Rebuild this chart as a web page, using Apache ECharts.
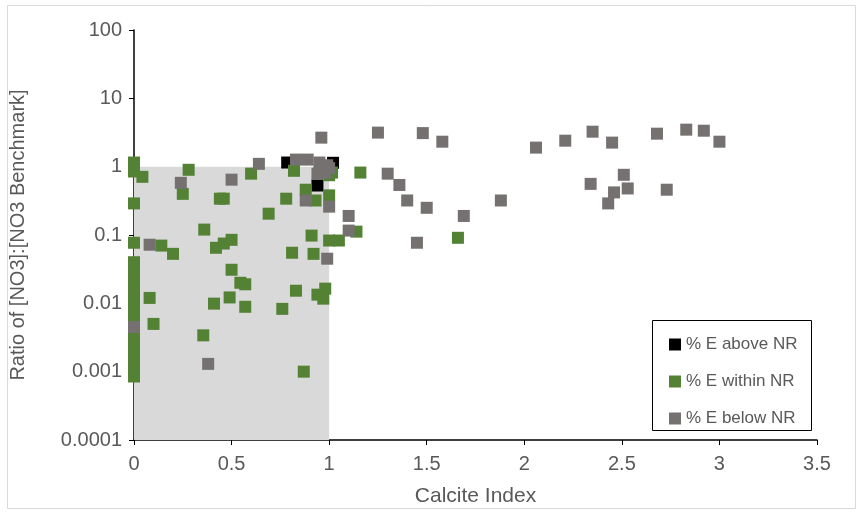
<!DOCTYPE html>
<html>
<head>
<meta charset="utf-8">
<script src="https://cdn.jsdelivr.net/npm/echarts@6/dist/echarts.min.js"></script>
<style>
  html, body { margin: 0; padding: 0; background: #fff; }
  #chart { width: 861px; height: 514px; }
</style>
</head>
<body>
<div id="chart"></div>
<script>
  // values: [calcite index, ratio]
  var seriesNames = ['% E above NR', '% E within NR', '% E below NR'];
  var xTicks = [0, 0.5, 1, 1.5, 2, 2.5, 3, 3.5];

  var aboveNR = [[0.785, 1.15], [1.02, 1.14], [0.94, 0.53]];

  var withinNR = [
    [0, 1.15], [0, 0.85], [0.043, 0.71], [0, 0.29], [0, 0.077],
    [0, 0.04], [0, 0.034], [0, 0.028], [0, 0.023], [0, 0.019], [0, 0.016],
    [0, 0.013], [0, 0.011], [0, 0.009], [0, 0.0074], [0, 0.006],
    [0, 0.0037], [0, 0.003], [0, 0.0025], [0, 0.002], [0, 0.0017],
    [0, 0.0014], [0, 0.0012], [0, 0.001], [0, 0.00085],
    [0.28, 0.9], [0.25, 0.4], [0.6, 0.79], [0.44, 0.34], [0.46, 0.34],
    [0.78, 0.34], [0.69, 0.205], [0.36, 0.12], [0.14, 0.07], [0.2, 0.053],
    [0.42, 0.065], [0.46, 0.075], [0.5, 0.085], [0.81, 0.055], [0.91, 0.098],
    [0.92, 0.053], [1.0, 0.083], [1.05, 0.083], [0.5, 0.031], [0.545, 0.02],
    [0.57, 0.019], [0.83, 0.0153], [0.94, 0.0134], [0.98, 0.0164], [0.97, 0.0117],
    [0.08, 0.012], [0.41, 0.0099], [0.49, 0.0122], [0.57, 0.0089], [0.76, 0.0083],
    [0.1, 0.005], [0.355, 0.0034], [0.87, 0.001], [0.82, 0.87], [1.015, 0.82],
    [1.16, 0.82], [0.88, 0.46], [0.93, 0.32], [1.0, 0.38], [1.14, 0.112],
    [1.66, 0.091], [0.97, 1.0], [1.0, 0.75]
  ];

  var belowNR = [
    [0.24, 0.58], [0.64, 1.1], [0.5, 0.645], [0.08, 0.072], [0.99, 0.045],
    [0, 0.0045], [0.38, 0.0013], [0.96, 2.66], [1.25, 3.15], [0.83, 1.27],
    [0.89, 1.27], [0.95, 1.15], [0.99, 1.05], [1.0, 0.95], [0.94, 0.79],
    [0.98, 0.82], [1.3, 0.79], [1.36, 0.54], [1.4, 0.32], [0.88, 0.32],
    [1.0, 0.26], [1.1, 0.19], [1.1, 0.116], [1.48, 3.1], [1.58, 2.32],
    [2.06, 1.9], [2.21, 2.4], [1.5, 0.25], [1.88, 0.32], [1.69, 0.19],
    [1.45, 0.077], [2.35, 3.25], [2.45, 2.25], [2.68, 3.04], [2.83, 3.48],
    [2.92, 3.36], [3.0, 2.32], [2.34, 0.56], [2.51, 0.76], [2.53, 0.48],
    [2.46, 0.42], [2.43, 0.29], [2.73, 0.46]
  ];

  // shaded "natural range" box
  var nrBox = [[0, 0.0001], [1, 1]];

  var textColor = '#595959';
  var font = 'Liberation Sans, Arial, sans-serif';

  var chart = echarts.init(document.getElementById('chart'));
  chart.setOption({
    animation: false,
    backgroundColor: '#fff',
    grid: { left: 133, right: 44, top: 30, bottom: 74 },
    graphic: [
      {
        type: 'rect', silent: true, z: -10,
        shape: { x: 7.5, y: 5.5, width: 848, height: 503 },
        style: { fill: 'none', stroke: '#d9d9d9', lineWidth: 1 }
      },
      {
        type: 'rect', silent: true, z: 10,
        shape: { x: 652.5, y: 320.5, width: 159, height: 110 },
        style: { fill: '#fff', stroke: '#000', lineWidth: 1 }
      }
    ],
    legend: {
      orient: 'vertical',
      left: 664,
      top: 331,
      itemWidth: 12,
      itemHeight: 12,
      itemGap: 20,
      z: 20,
      icon: 'rect',
      textStyle: { color: textColor, fontSize: 17, fontFamily: font },
      data: seriesNames
    },
    xAxis: {
      type: 'value',
      min: 0, max: 3.5, interval: 0.5,
      name: 'Calcite Index',
      nameLocation: 'middle',
      nameGap: 46,
      nameTextStyle: { color: textColor, fontSize: 21, fontFamily: font },
      axisLine: { lineStyle: { color: '#000', width: 1.5 } },
      axisTick: { show: true, length: 5, lineStyle: { color: '#000' } },
      axisLabel: {
        color: textColor, fontSize: 20, fontFamily: font, margin: 14,
        formatter: function (v) { return String(v); }
      },
      splitLine: { show: false }
    },
    yAxis: {
      type: 'log',
      logBase: 10,
      min: 0.0001, max: 100,
      name: 'Ratio of [NO3]:[NO3 Benchmark]',
      nameLocation: 'middle',
      nameGap: 106,
      nameTextStyle: { color: textColor, fontSize: 20, fontFamily: font },
      axisLine: { show: true, lineStyle: { color: '#000', width: 1.5 } },
      axisTick: { show: true, length: 5, lineStyle: { color: '#000' } },
      axisLabel: {
        color: textColor, fontSize: 20, fontFamily: font, margin: 12,
        formatter: function (v) { return String(Number(v.toPrecision(6))); }
      },
      splitLine: { show: false }
    },
    series: [
      {
        name: 'box',
        type: 'scatter',
        data: [],
        z: 1,
        markArea: {
          silent: true,
          itemStyle: { color: '#d9d9d9' },
          data: [[{ coord: nrBox[0] }, { coord: nrBox[1] }]]
        }
      },
      {
        name: seriesNames[0], type: 'scatter', symbol: 'rect', symbolSize: 12, z: 3,
        itemStyle: { color: '#000000', opacity: 1 },
        data: aboveNR
      },
      {
        name: seriesNames[1], type: 'scatter', symbol: 'rect', symbolSize: 12, z: 4,
        itemStyle: { color: '#548235', opacity: 1 },
        data: withinNR
      },
      {
        name: seriesNames[2], type: 'scatter', symbol: 'rect', symbolSize: 12, z: 5,
        itemStyle: { color: '#767171', opacity: 1 },
        data: belowNR
      }
    ]
  });
</script>
</body>
</html>
